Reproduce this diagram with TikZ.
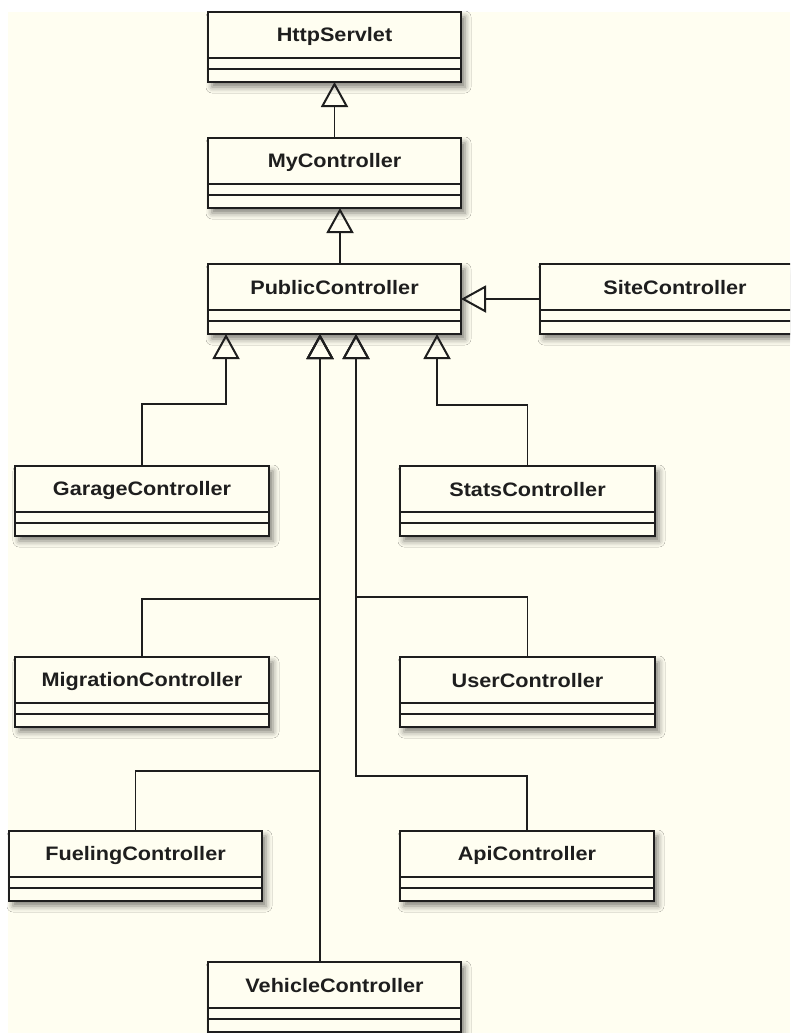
\documentclass[tikz,border=0pt]{standalone}
\usepackage{fontspec}
\newfontfamily\umlfont[FakeStretch=1.11]{Liberation Sans}
\usetikzlibrary{arrows.meta,shadows.blur}

\definecolor{canvas}{HTML}{FFFEF1}
\definecolor{boxfill}{HTML}{FFFEF1}
\definecolor{ink}{HTML}{1E1E1E}

\tikzset{
  classbox/.style={draw=ink, line width=1.6pt, fill=boxfill,
    inner sep=0pt, outer sep=0pt, minimum height=70pt,
    blur shadow={shadow xshift=4pt, shadow yshift=-5pt,
      shadow blur radius=6pt, shadow opacity=50}},
  classname/.style={inner sep=0pt,
    font=\umlfont\bfseries\fontsize{19.5}{22}\selectfont, text=ink},
  divider/.style={draw=ink, line width=1.6pt},
  inherit/.style={draw=ink, line width=1.2pt,
    -{Triangle[open, length=25pt, width=27pt, line width=2pt]}},
}

% #1 node name, #2 left edge, #3 top edge, #4 width, #5 class name
\newcommand\umlclass[5]{%
  \node[classbox, minimum width=#4pt, anchor=north west] (#1) at (#2,#3) {};
  \node[classname] (#1-name) at ([yshift=-24pt]#1.north) {#5};
  \draw[divider] ([yshift=-46pt]#1.north west) -- ([yshift=-46pt]#1.north east);
  \draw[divider] ([yshift=-57pt]#1.north west) -- ([yshift=-57pt]#1.north east);
}

\begin{document}
\begin{tikzpicture}[x=1pt, y=-1pt]
  \clip (0,0) rectangle (790,1033);
  \fill[white] (0,0) rectangle (790,1033);
  \fill[canvas] (8,12) rectangle (790,1033);

  % class boxes
  \umlclass{http}{208}{12}{253}{HttpServlet}
  \umlclass{my}{208}{138}{253}{MyController}
  \umlclass{pub}{208}{264}{253}{PublicController}
  \umlclass{site}{540}{264}{270}{SiteController}
  \umlclass{garage}{15}{466}{254}{GarageController}
  \umlclass{stats}{400}{466}{255}{StatsController}
  \umlclass{migration}{15}{657}{254}{MigrationController}
  \umlclass{user}{400}{657}{255}{UserController}
  \umlclass{fueling}{9}{831}{253}{FuelingController}
  \umlclass{api}{400}{831}{254}{ApiController}
  \umlclass{vehicle}{208}{962}{253}{VehicleController}

  % bend points of the generalisation connectors
  \coordinate (xMy)  at (340,0);
  \coordinate (ySite) at (0,299);
  \coordinate (gB) at (226,404);
  \coordinate (sB) at (437,405);
  \coordinate (mB) at (320,599);
  \coordinate (fB) at (320,771);
  \coordinate (uB) at (356,597);
  \coordinate (aB) at (356,776);

  % generalisations
  \draw[inherit] (my.north) -- (http.south);
  \draw[inherit] (pub.north -| xMy) -- (my.south -| xMy);
  \draw[inherit] (site.west |- ySite) -- (pub.east |- ySite);
  \draw[inherit] (garage.north) |- (gB) -- (gB |- pub.south);
  \draw[inherit] (stats.north) |- (sB) -- (sB |- pub.south);
  \draw[inherit] (migration.north) |- (mB) -- (mB |- pub.south);
  \draw[inherit] (fueling.north) |- (fB) -- (fB |- pub.south);
  \draw[inherit] (vehicle.north -| mB) -- (mB |- pub.south);
  \draw[inherit] (user.north) |- (uB) -- (uB |- pub.south);
  \draw[inherit] (api.north) |- (aB) -- (aB |- pub.south);
\end{tikzpicture}
\end{document}
